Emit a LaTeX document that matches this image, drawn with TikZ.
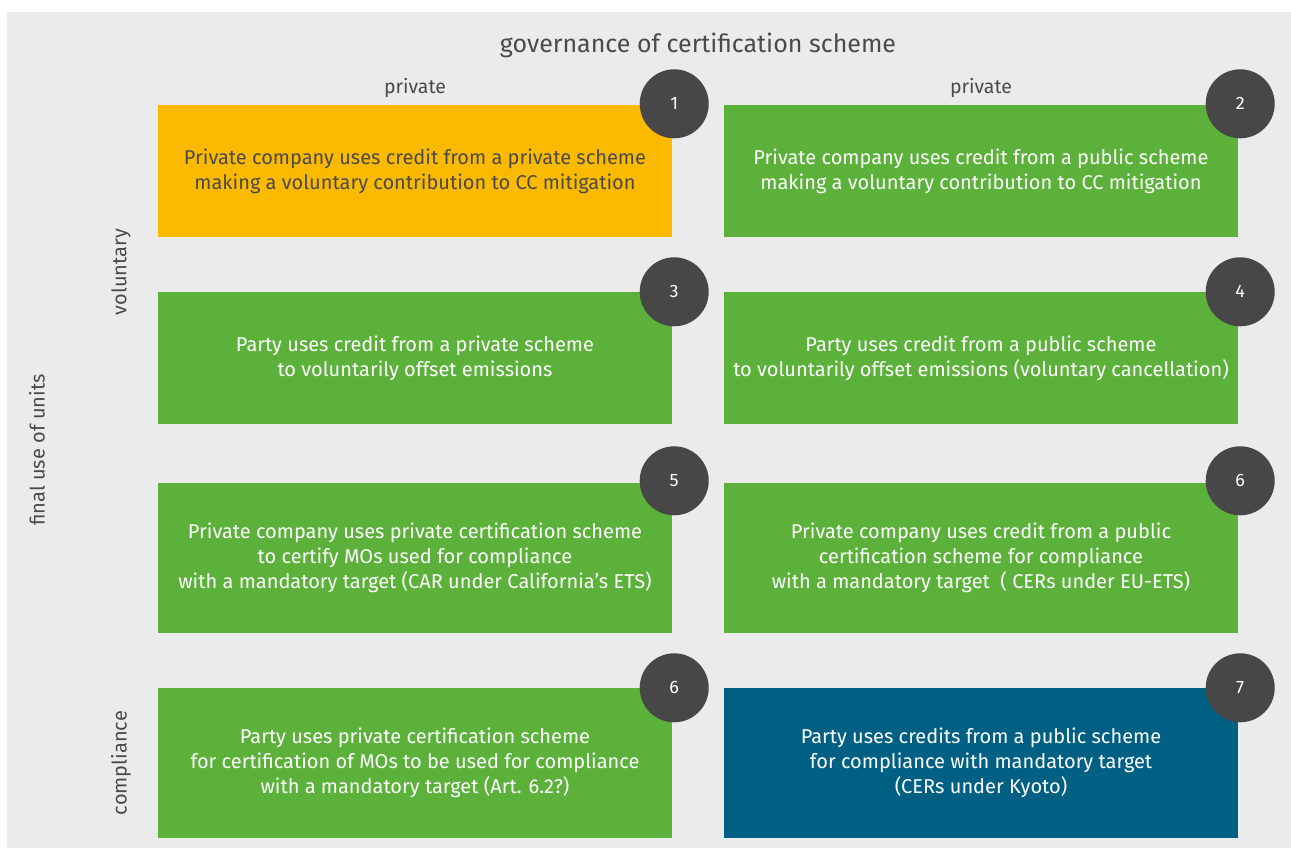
\documentclass[tikz,border=0pt]{standalone}
\usepackage{fontspec}
\setmainfont{Fira Sans}
\usepackage{tikz}

\definecolor{bggray}{HTML}{EBEBEB}
\definecolor{txtgray}{HTML}{4A4A4A}
\definecolor{cyellow}{HTML}{FBB900}
\definecolor{cgreen}{HTML}{5BB13A}
\definecolor{cblue}{HTML}{006084}
\definecolor{cdark}{HTML}{474747}

\begin{document}
\begin{tikzpicture}[x=1pt,y=-1pt]
    \tikzstyle{every node}+=[inner sep=0pt]
    \tikzstyle{case}=[rectangle, minimum width=514pt, align=center,
        font=\fontsize{20}{25}\selectfont, text=white, fill=cgreen]
    \tikzstyle{num}=[circle, fill=cdark, minimum size=69pt, text=white,
        font=\fontsize{18}{20}\selectfont]
    \tikzstyle{axis}=[text=txtgray, font=\fontsize{20}{22}\selectfont]
    \useasboundingbox (0,0) rectangle (1291,848);
    \fill [bggray] (7,12) rectangle (1291,848);
    % headings
    \node [axis, font=\fontsize{25}{28}\selectfont] (gov) at (698,45) {governance of certification scheme};
    \node [axis, font=\fontsize{19.5}{22}\selectfont] (privl) at (415,88) {private};
    \node [axis, font=\fontsize{19.5}{22}\selectfont] (privr) at (981,88) {private};
    \node [axis, rotate=90] (fin) at (37,450) {final use of units};
    \node [axis, rotate=90] (vol) at (121,272) {voluntary};
    \node [axis, rotate=90] (comp) at (121,763) {compliance};
    % boxes
    \node [case, fill=cyellow, text=txtgray, minimum height=132pt] (b1) at (415,171)
        {Private company uses credit from a private scheme\\making a voluntary contribution to CC mitigation};
    \node [case, minimum height=132pt] (b2) at (981,171)
        {Private company uses credit from a public scheme\\making a voluntary contribution to CC mitigation};
    \node [case, minimum height=132pt] (b3) at (415,358)
        {Party uses credit from a private scheme\\to voluntarily offset emissions};
    \node [case, minimum height=132pt] (b4) at (981,358)
        {Party uses credit from a public scheme\\to voluntarily offset emissions (voluntary cancellation)};
    \node [case, minimum height=150pt] (b5) at (415,558)
        {Private company uses private certification scheme\\to certify MOs used for compliance\\with a mandatory target (CAR under California’s ETS)};
    \node [case, minimum height=150pt] (b6) at (981,558)
        {Private company uses credit from a public\\certification scheme for compliance\\with a mandatory target ~( CERs under EU-ETS)};
    \node [case, minimum height=150pt] (b7) at (415,763)
        {Party uses private certification scheme\\for certification of MOs to be used for compliance\\with a mandatory target (Art. 6.2?)};
    \node [case, fill=cblue, minimum height=150pt] (b8) at (981,763)
        {Party uses credits from a public scheme\\for compliance with mandatory target\\(CERs under Kyoto)};
    % numbers
    \node [num] (n1) at ([xshift=2pt,yshift=1pt]b1.north east) {1};
    \node [num] (n2) at ([xshift=2pt,yshift=1pt]b2.north east) {2};
    \node [num] (n3) at ([xshift=2pt]b3.north east) {3};
    \node [num] (n4) at ([xshift=2pt]b4.north east) {4};
    \node [num] (n5) at ([xshift=2pt,yshift=2pt]b5.north east) {5};
    \node [num] (n6) at ([xshift=2pt,yshift=2pt]b6.north east) {6};
    \node [num] (n7) at ([xshift=2pt]b7.north east) {6};
    \node [num] (n8) at ([xshift=2pt]b8.north east) {7};
\end{tikzpicture}
\end{document}
